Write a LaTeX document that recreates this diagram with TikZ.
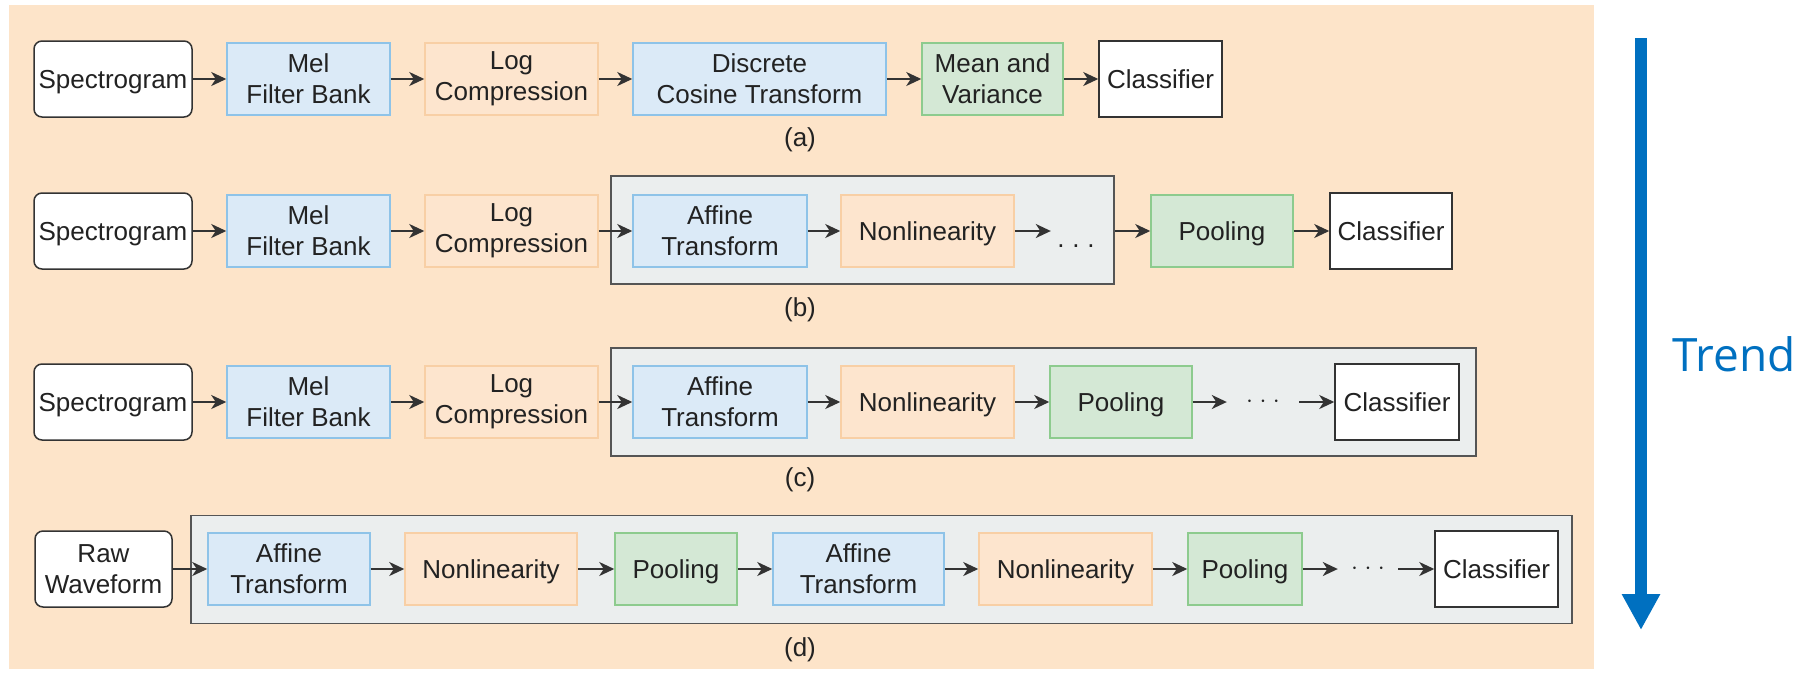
\documentclass[tikz,border=0pt]{standalone}
\usepackage{fontspec}
\setmainfont{Liberation Sans}
\newfontfamily\trendfont{Open Sans}
\usetikzlibrary{arrows.meta}
\definecolor{peach}{HTML}{FDE4C9}
\definecolor{bfill}{HTML}{DBEAF7}
\definecolor{bline}{HTML}{8EC3E8}
\definecolor{ofill}{HTML}{FDE5CE}
\definecolor{oline}{HTML}{F8CFA5}
\definecolor{gfill}{HTML}{D4E8D5}
\definecolor{gline}{HTML}{8DCB8E}
\definecolor{grfill}{HTML}{EBEEEE}
\definecolor{grline}{HTML}{555555}
\definecolor{dline}{HTML}{333333}
\definecolor{txt}{HTML}{222222}
\definecolor{trendblue}{HTML}{0070C0}
\tikzset{
  box/.style={draw, line width=1.5pt, minimum height=72pt, inner sep=0pt, align=center,
    font=\fontsize{26}{31}\selectfont, text=txt},
  oneline/.style={text height=18.6pt, text depth=0pt},
  bluebox/.style={box, fill=bfill, draw=bline},
  orangebox/.style={box, fill=ofill, draw=oline},
  greenbox/.style={box, fill=gfill, draw=gline},
  whitebox/.style={box, fill=white, draw=dline, minimum height=76pt},
  roundbox/.style={whitebox, rounded corners=8pt},
  groupbox/.style={draw=grline, fill=grfill, line width=1.5pt, inner sep=0pt, minimum height=108pt},
  dotsnode/.style={inner sep=0pt, font=\fontsize{26}{31}\selectfont, text=txt},
  sublabel/.style={inner sep=0pt, font=\fontsize{26}{31}\selectfont, text=txt},
  arr/.style={draw=dline, line width=2pt, -{Stealth[length=15pt,width=14pt,inset=4.5pt]}}
}
\begin{document}
\begin{tikzpicture}[x=1pt,y=-1pt]
\useasboundingbox (0,0) rectangle (1806,673);
\fill[peach] (9,5) rectangle (1594,669);

% ---------- row (a)
\node[roundbox, oneline, minimum width=158pt] (spa) at (113,79) {Spectrogram};
\node[bluebox, minimum width=163pt] (mela) at (308.5,79) {Mel\\Filter Bank};
\node[orangebox, minimum width=173pt] (loga) at (511.5,79) {Log\\Compression};
\node[bluebox, minimum width=253pt] (dct) at (759.5,79) {Discrete\\Cosine Transform};
\node[greenbox, minimum width=141pt] (mv) at (992.5,79) {Mean and\\Variance};
\node[whitebox, oneline, minimum width=123pt] (cla) at (1160.5,79) {Classifier};
\node[sublabel] (la) at (800,140) {(a)};
\draw[arr] (spa) -- (mela);
\draw[arr] (mela) -- (loga);
\draw[arr] (loga) -- (dct);
\draw[arr] (dct) -- (mv);
\draw[arr] (mv) -- (cla);

% ---------- row (b)
\node[groupbox, minimum width=503pt] (grb) at (862.5,230) {};
\node[roundbox, oneline, minimum width=158pt] (spb) at (113,231) {Spectrogram};
\node[bluebox, minimum width=163pt] (melb) at (308.5,231) {Mel\\Filter Bank};
\node[orangebox, minimum width=173pt] (logb) at (511.5,231) {Log\\Compression};
\node[bluebox, minimum width=174pt] (affb) at (720,231) {Affine\\Transform};
\node[orangebox, oneline, minimum width=173pt] (nonb) at (927.5,231) {Nonlinearity};
\node[dotsnode, minimum width=50pt, text height=32pt, text depth=0pt] (dotsb) at (1076,231) {.\hspace{0.3em}.\hspace{0.3em}.};
\node[greenbox, oneline, minimum width=142pt] (poolb) at (1222,231) {Pooling};
\node[whitebox, oneline, minimum width=122pt] (clb) at (1391,231) {Classifier};
\node[sublabel] (lb) at (800,310) {(b)};
\draw[arr] (spb) -- (melb);
\draw[arr] (melb) -- (logb);
\draw[arr] (logb) -- (affb);
\draw[arr] (affb) -- (nonb);
\draw[arr] (nonb) -- (dotsb);
\draw[arr] (grb.east |- poolb.west) -- (poolb);
\draw[arr] (poolb) -- (clb);

% ---------- row (c)
\node[groupbox, minimum width=865pt] (grc) at (1043.5,402) {};
\node[roundbox, oneline, minimum width=158pt] (spc) at (113,402) {Spectrogram};
\node[bluebox, minimum width=163pt] (melc) at (308.5,402) {Mel\\Filter Bank};
\node[orangebox, minimum width=173pt] (logc) at (511.5,402) {Log\\Compression};
\node[bluebox, minimum width=174pt] (affc) at (720,402) {Affine\\Transform};
\node[orangebox, oneline, minimum width=173pt] (nonc) at (927.5,402) {Nonlinearity};
\node[greenbox, oneline, minimum width=142pt] (poolc) at (1121,402) {Pooling};
\node[dotsnode, minimum width=72pt] (dotsc) at (1263,402) {$\cdot$\hspace{0.25em}$\cdot$\hspace{0.25em}$\cdot$};
\node[whitebox, oneline, minimum width=124pt] (clc) at (1397,402) {Classifier};
\node[sublabel] (lc) at (800,480) {(c)};
\draw[arr] (spc) -- (melc);
\draw[arr] (melc) -- (logc);
\draw[arr] (logc) -- (affc);
\draw[arr] (affc) -- (nonc);
\draw[arr] (nonc) -- (poolc);
\draw[arr] (poolc) -- (dotsc);
\draw[arr] (dotsc) -- (clc);

% ---------- row (d)
\node[groupbox, minimum width=1381pt] (grd) at (881.5,569.5) {};
\node[roundbox, minimum width=137pt] (raw) at (103.5,569) {Raw\\Waveform};
\node[bluebox, minimum width=162pt] (affd1) at (289,569) {Affine\\Transform};
\node[orangebox, oneline, minimum width=172pt] (nond1) at (491,569) {Nonlinearity};
\node[greenbox, oneline, minimum width=122pt] (poold1) at (676,569) {Pooling};
\node[bluebox, minimum width=171pt] (affd2) at (858.5,569) {Affine\\Transform};
\node[orangebox, oneline, minimum width=173pt] (nond2) at (1065.5,569) {Nonlinearity};
\node[greenbox, oneline, minimum width=114pt] (poold2) at (1245,569) {Pooling};
\node[dotsnode, minimum width=60pt] (dotsd) at (1368,569) {$\cdot$\hspace{0.25em}$\cdot$\hspace{0.25em}$\cdot$};
\node[whitebox, oneline, minimum width=123pt] (cld) at (1496.5,569) {Classifier};
\node[sublabel] (ld) at (800,650) {(d)};
\draw[arr] (raw) -- (affd1);
\draw[arr] (affd1) -- (nond1);
\draw[arr] (nond1) -- (poold1);
\draw[arr] (poold1) -- (affd2);
\draw[arr] (affd2) -- (nond2);
\draw[arr] (nond2) -- (poold2);
\draw[arr] (poold2) -- (dotsd);
\draw[arr] (dotsd) -- (cld);

% ---------- trend arrow
\coordinate (trendtop) at (1641,38);
\coordinate (trendtip) at (1641,630);
\draw[trendblue, line width=12pt, -{Triangle[length=36pt,width=36pt]}] (trendtop) -- (trendtip);
\node[inner sep=0pt, anchor=base west, text=trendblue, font=\trendfont\fontsize{46}{50}\selectfont] (trend) at (1672,371) {Trend};
\end{tikzpicture}
\end{document}
